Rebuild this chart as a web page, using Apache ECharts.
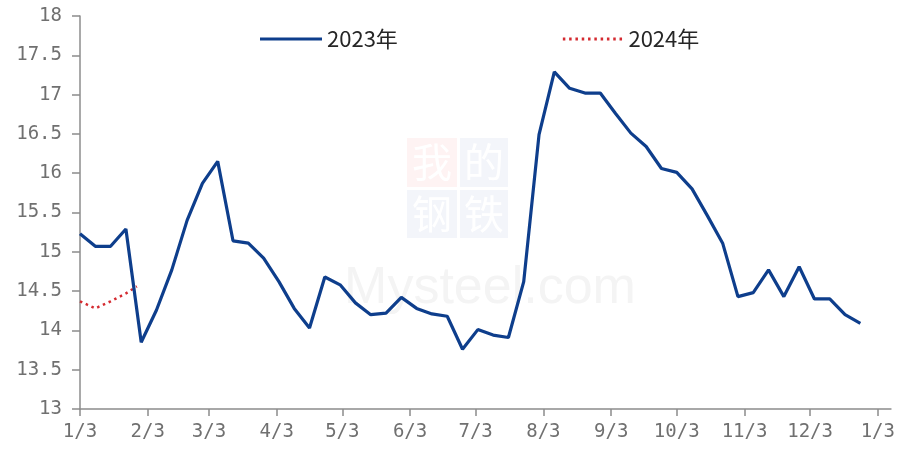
<!DOCTYPE html>
<html>
<head>
<meta charset="utf-8">
<script src="https://cdn.jsdelivr.net/npm/echarts@6/dist/echarts.min.js"></script>
<style>
  html, body { margin: 0; padding: 0; background: #ffffff; }
  #chart { width: 898px; height: 450px; }
</style>
</head>
<body>
<div id="chart"></div>
<script>
// Weekly readings, 2023 (first reading on 1/3, one per week)
const series2023Name = '2023年';
const values2023 = [
  15.23, 15.07, 15.07, 15.29, 13.85, 14.26, 14.77, 15.40, 15.87, 16.15,
  15.14, 15.11, 14.92, 14.62, 14.28, 14.03, 14.68, 14.58, 14.35, 14.20,
  14.22, 14.42, 14.28, 14.21, 14.18, 13.76, 14.01, 13.94, 13.91, 14.62,
  16.49, 17.29, 17.08, 17.02, 17.02, 16.76, 16.51, 16.34, 16.06, 16.01,
  15.80, 15.46, 15.11, 14.43, 14.48, 14.77, 14.43, 14.81, 14.40, 14.40,
  14.20, 14.09
];

// Readings so far in 2024 (month/day)
const series2024Name = '2024年';
const dates2024 = ['1/3', '1/10', '1/17', '1/24', '1/29'];
const values2024 = [14.37, 14.28, 14.37, 14.47, 14.56];

// Axis labels: the 3rd of each month through to the next 1/3
const tickLabels = ['1/3', '2/3', '3/3', '4/3', '5/3', '6/3', '7/3', '8/3', '9/3', '10/3', '11/3', '12/3', '1/3'];

const DAY = 24 * 3600 * 1000;
const yearStart = Date.UTC(2023, 0, 3);

// Day offset of "m/d" counted from 1/3 of the same year
function dayOfSeason(md, year) {
  const [m, d] = md.split('/').map(Number);
  return Math.round((Date.UTC(year, m - 1, d) - Date.UTC(year, 0, 3)) / DAY);
}

// tick positions in days from 1/3
const tickDays = tickLabels.map((_, i) =>
  Math.round((Date.UTC(2023, i, 3) - yearStart) / DAY));

const data2023 = values2023.map((v, i) => [i * 7, v]);
const data2024 = values2024.map((v, i) => [dayOfSeason(dates2024[i], 2024), v]);

const labelFont = '"DejaVu Sans Mono", monospace';
const axisGray = '#8c8c8c';
const blue = '#0e3e8c';
const red = '#d42a30';

// legend keys: a solid bar and a row of square dots
const solidKey = 'path://M0,0H62V3H0Z';
let dotKey = 'path://';
for (let k = 0; k < 10; k++) {
  const x = (k * 6.3).toFixed(1);
  dotKey += 'M' + x + ',0h2.5v3h-2.5Z';
}

const chart = echarts.init(document.getElementById('chart'), null, { renderer: 'canvas' });

chart.setOption({
  animation: false,
  backgroundColor: '#ffffff',
  grid: { left: 80, right: 6, top: 16, bottom: 41 },
  legend: {
    left: 260,
    top: 28,
    padding: 0,
    itemWidth: 62,
    itemHeight: 3,
    itemGap: 165,
    textStyle: {
      fontFamily: '"Liberation Sans Narrow", "Noto Sans CJK SC", sans-serif',
      fontSize: 22,
      lineHeight: 22,
      color: '#262626'
    },
    data: [
      { name: series2023Name, icon: solidKey, itemStyle: { color: blue } },
      { name: series2024Name, icon: dotKey, itemStyle: { color: red } }
    ]
  },
  graphic: [
    { type: 'rect', z: 0, silent: true, shape: { x: 407, y: 138, width: 50, height: 49 }, style: { fill: '#fef3f3' } },
    { type: 'rect', z: 0, silent: true, shape: { x: 460, y: 138, width: 48, height: 49 }, style: { fill: '#f3f5fa' } },
    { type: 'rect', z: 0, silent: true, shape: { x: 407, y: 190, width: 50, height: 48 }, style: { fill: '#f3f5fa' } },
    { type: 'rect', z: 0, silent: true, shape: { x: 460, y: 190, width: 48, height: 48 }, style: { fill: '#f3f5fa' } },
    { type: 'text', z: 0, silent: true, x: 432, y: 162, style: { text: '我', font: '40px "Noto Sans CJK SC"', fill: '#ffffff', align: 'center', verticalAlign: 'middle' } },
    { type: 'text', z: 0, silent: true, x: 484, y: 162, style: { text: '的', font: '40px "Noto Sans CJK SC"', fill: '#ffffff', align: 'center', verticalAlign: 'middle' } },
    { type: 'text', z: 0, silent: true, x: 432, y: 214, style: { text: '钢', font: '40px "Noto Sans CJK SC"', fill: '#ffffff', align: 'center', verticalAlign: 'middle' } },
    { type: 'text', z: 0, silent: true, x: 484, y: 214, style: { text: '铁', font: '40px "Noto Sans CJK SC"', fill: '#ffffff', align: 'center', verticalAlign: 'middle' } },
    { type: 'text', z: 0, silent: true, x: 490, y: 263, style: { text: 'Mysteel.com', font: '52px "Liberation Sans Narrow", sans-serif', fill: '#f4f4f4', align: 'center', verticalAlign: 'alphabetic' } }
  ],
  xAxis: {
    type: 'value',
    min: 0,
    max: 371,
    splitLine: { show: false },
    axisLine: { lineStyle: { color: axisGray, width: 1.5 } },
    axisTick: { show: true, length: 7, customValues: tickDays, lineStyle: { color: axisGray, width: 1.5 } },
    axisLabel: {
      customValues: tickDays,
      margin: 14,
      fontFamily: labelFont,
      fontSize: 19,
      color: '#707070',
      formatter: function (v) {
        const i = tickDays.indexOf(Math.round(v));
        return i >= 0 ? tickLabels[i] : '';
      }
    }
  },
  yAxis: {
    type: 'value',
    min: 13,
    max: 18,
    interval: 0.5,
    splitLine: { show: false },
    axisLine: { show: true, lineStyle: { color: axisGray, width: 1.5 } },
    axisTick: { show: true, length: 8, lineStyle: { color: axisGray, width: 1.5 } },
    axisLabel: {
      margin: 18,
      fontFamily: labelFont,
      fontSize: 19,
      color: '#707070'
    }
  },
  series: [
    {
      name: series2023Name,
      type: 'line',
      data: data2023,
      symbol: 'none',
      z: 3,
      lineStyle: { color: blue, width: 3.2 },
      itemStyle: { color: blue }
    },
    {
      name: series2024Name,
      type: 'line',
      data: data2024,
      symbol: 'none',
      z: 2,
      lineStyle: { color: red, width: 2.5, type: [2.5, 3.8] },
      itemStyle: { color: red }
    }
  ]
});
</script>
</body>
</html>
